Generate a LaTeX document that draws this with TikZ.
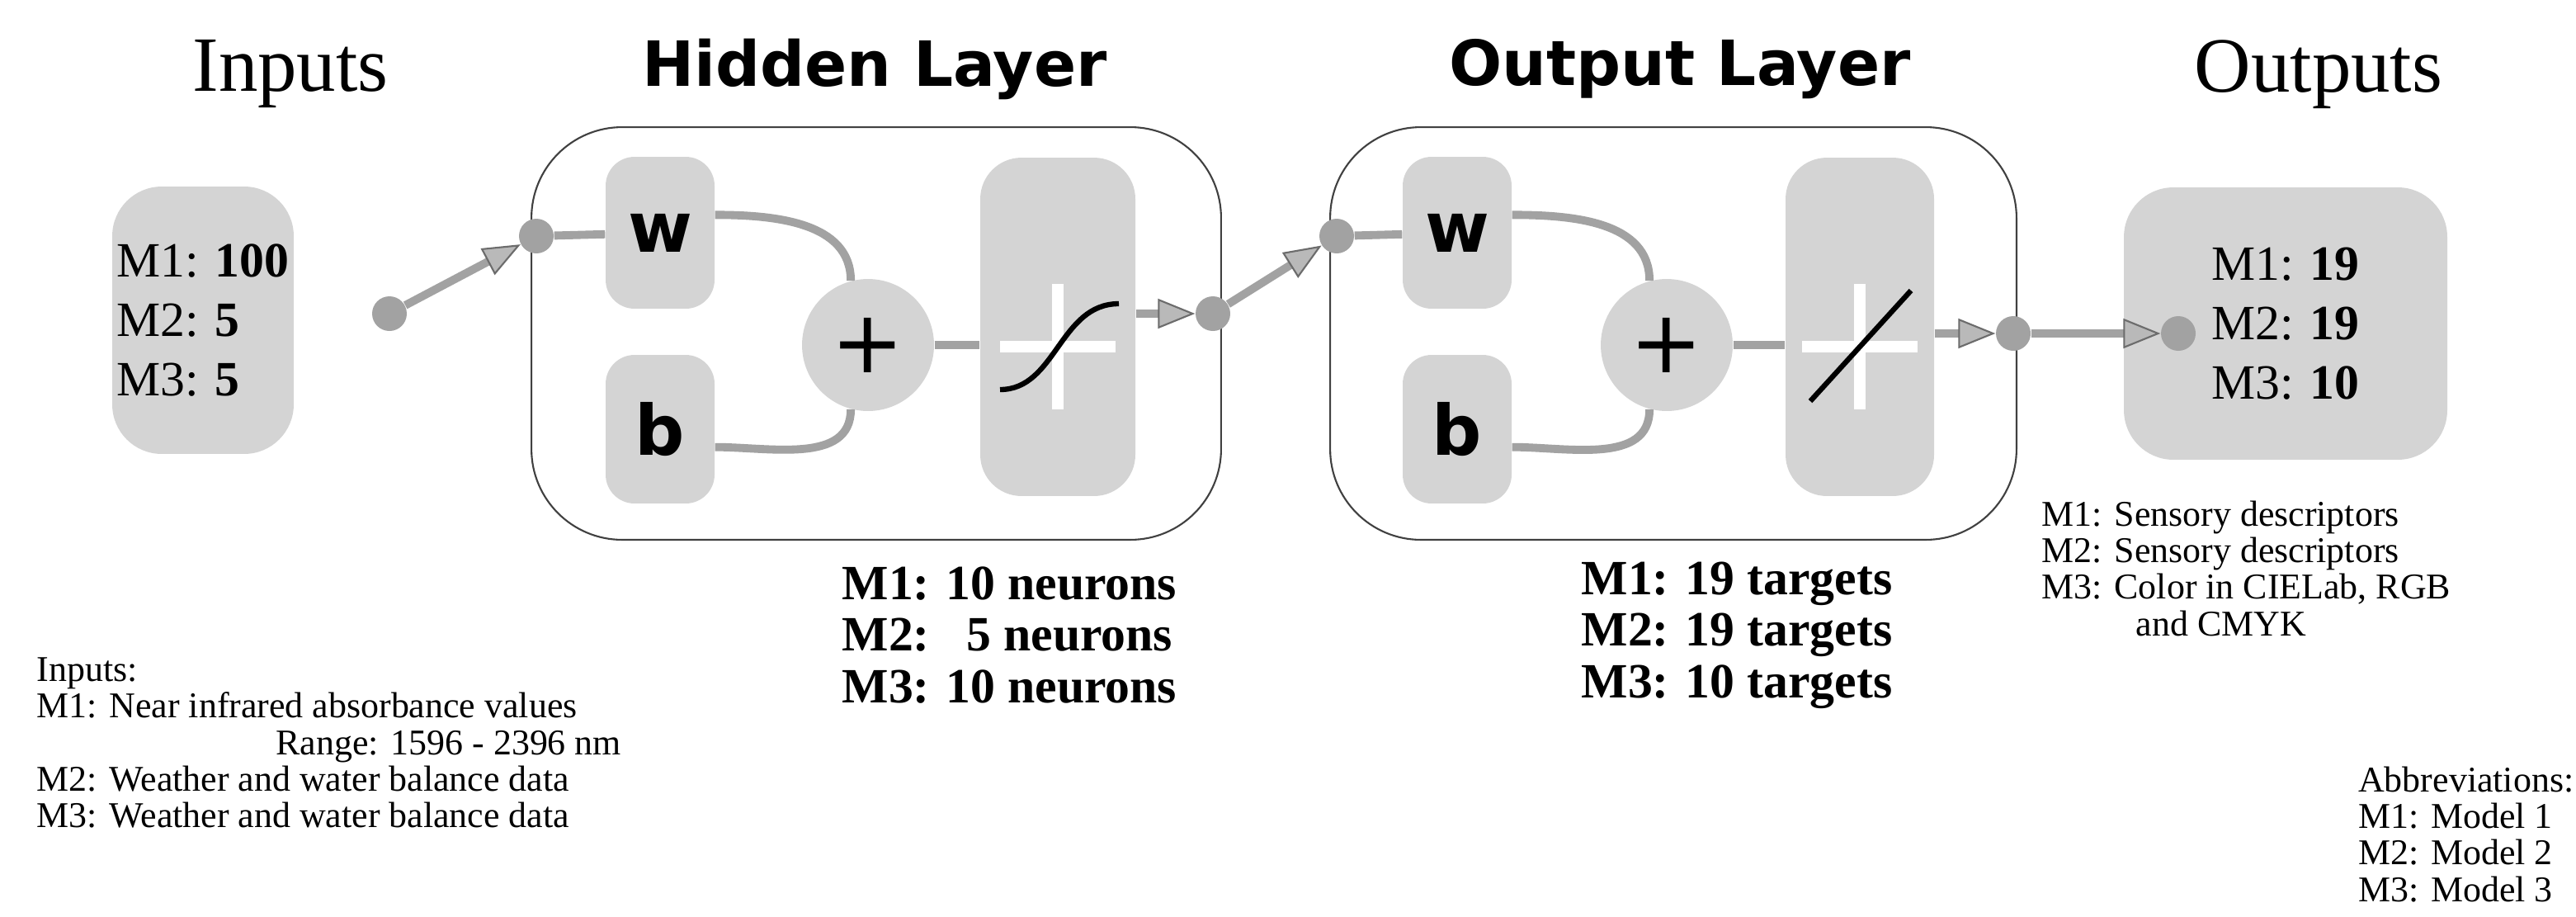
\documentclass[tikz,border=0pt]{standalone}
\usepackage{fontspec}
\setmainfont{Liberation Serif}
\setsansfont{DejaVu Sans}
\usepackage{xcolor}
\usetikzlibrary{arrows.meta, positioning, calc}

\definecolor{boxgray}{HTML}{D4D4D4}
\definecolor{linegray}{HTML}{A2A2A2}

\begin{document}
\begin{tikzpicture}[x=0.02cm, y=-0.02cm,
    blk/.style={fill=boxgray, rounded corners=0.35cm, inner sep=0pt},
    frame/.style={draw=black!75, line width=0.6pt, rounded corners=1.1cm},
    dot/.style={circle, fill=linegray, minimum size=0.42cm, inner sep=0pt},
    conn/.style={draw=linegray, line width=2.8pt},
    tip/.style={-{Triangle[length=0.45cm, width=0.36cm, fill=gray!55, color=gray!85!black, line width=0.6pt]}},
    ttl/.style={font=\fontsize{27}{30}\selectfont},
    ttlsans/.style={font=\sffamily\bfseries\fontsize{21.5}{24}\selectfont},
    note/.style={align=left, font=\fontsize{12.5}{12.6}\selectfont, inner sep=0pt},
    count/.style={align=left, font=\bfseries\fontsize{17}{17.8}\selectfont, inner sep=0pt}]
    \useasboundingbox (0,0) rectangle (1561,555);

    % Titles
    \node (tin) [ttl] at (176,45) {Inputs};
    \node (thid) [ttlsans] at (530,42) {Hidden Layer};
    \node (tout) [ttlsans] at (1018,42) {Output Layer};
    \node (tres) [ttl] at (1405,45) {Outputs};

    % Layer frames
    \node (hid) [frame, minimum width=8.36cm, minimum height=5cm] at (531,202) {};
    \node (outl) [frame, minimum width=8.32cm, minimum height=5cm] at (1014,202) {};

    % Input and output blocks
    \node (in) [blk, rounded corners=0.6cm, minimum width=2.2cm, minimum height=3.24cm, align=left,
        font=\fontsize{17}{20.5}\selectfont] at (123,194) {M1: \textbf{100}\\M2: \textbf{5}\\M3: \textbf{5}};
    \node (res) [blk, rounded corners=0.6cm, minimum width=3.92cm, minimum height=3.3cm, align=left,
        font=\fontsize{17}{20.5}\selectfont] at (1385,196) {M1: \textbf{19}\\M2: \textbf{19}\\M3: \textbf{10}};

    % Hidden layer parts
    \node (hw) [blk, minimum width=1.32cm, minimum height=1.84cm, font=\sffamily\bfseries\fontsize{24}{26}\selectfont] at (400,141) {w};
    \node (hb) [blk, minimum width=1.32cm, minimum height=1.8cm, font=\sffamily\bfseries\fontsize{24}{26}\selectfont] at (400,260) {b};
    \node (hplus) [circle, fill=boxgray, minimum size=1.6cm, inner sep=0pt, font=\sffamily\fontsize{30}{30}\selectfont] at (526,209) {+};
    \node (hact) [blk, rounded corners=0.5cm, minimum width=1.88cm, minimum height=4.1cm] at (641,198) {};

    % Output layer parts
    \node (ow) [blk, minimum width=1.32cm, minimum height=1.84cm, font=\sffamily\bfseries\fontsize{24}{26}\selectfont] at (883,141) {w};
    \node (ob) [blk, minimum width=1.32cm, minimum height=1.8cm, font=\sffamily\bfseries\fontsize{24}{26}\selectfont] at (883,260) {b};
    \node (oplus) [circle, fill=boxgray, minimum size=1.6cm, inner sep=0pt, font=\sffamily\fontsize{30}{30}\selectfont] at (1010,209) {+};
    \node (oact) [blk, rounded corners=0.5cm, minimum width=1.8cm, minimum height=4.1cm] at (1127,198) {};

    % Transfer function glyphs
    \draw[white, line width=4pt] (606,210) -- (676,210) (641,172) -- (641,248);
    \draw[black, line width=1.8pt] (606,236) .. controls (640,236) and (642,184) .. (678,184);
    \draw[white, line width=4pt] (1092,210) -- (1162,210) (1127,172) -- (1127,248);
    \draw[black, line width=1.8pt] (1097,243) -- (1158,176);

    % Junction dots
    \node (ind) [dot] at (236,190) {};
    \node (hin) [dot] at (325,143) {};
    \node (hsum) [dot] at (735,190) {};
    \node (oin) [dot] at (810,143) {};
    \node (osum) [dot] at (1220,202) {};
    \node (resd) [dot] at (1320,202) {};

    % Connectors
    \draw[conn, tip] (ind) -- (hin);
    \draw[conn] (hin) -- (hw);
    \draw[conn] (hw.18) to[out=0, in=90] (hplus.105);
    \draw[conn] (hb.-18) to[out=0, in=-90] (hplus.-105);
    \draw[conn] (hplus.east) -- (hplus.east -| hact.west);
    \draw[conn, tip] (hact.east |- hsum) -- (hsum);
    \draw[conn, tip] (hsum) -- (oin);
    \draw[conn] (oin) -- (ow);
    \draw[conn] (ow.18) to[out=0, in=90] (oplus.105);
    \draw[conn] (ob.-18) to[out=0, in=-90] (oplus.-105);
    \draw[conn] (oplus.east) -- (oplus.east -| oact.west);
    \draw[conn, tip] (oact.east |- osum) -- (osum);
    \draw[conn, tip] (osum) -- (resd);

    % Notes
    \node (innote) [note, anchor=north west] at (22,398) {Inputs:\\M1: Near infrared absorbance values\\\hspace{6.6em}Range: 1596 - 2396 nm\\M2: Weather and water balance data\\M3: Weather and water balance data};
    \node (hcount) [count, anchor=north west] at (510,343) {M1: 10 neurons\\M2:\ \ \ 5 neurons\\M3: 10 neurons};
    \node (ocount) [count, anchor=north west] at (958,340) {M1: 19 targets\\M2: 19 targets\\M3: 10 targets};
    \node (resnote) [note, anchor=north west] at (1237,303) {M1: Sensory descriptors\\M2: Sensory descriptors\\M3: Color in CIELab, RGB\\\hspace{2.6em}and CMYK};
    \node (abbr) [note, anchor=north east] at (1560,464) {Abbreviations:\\M1: Model 1\\M2: Model 2\\M3: Model 3};
\end{tikzpicture}
\end{document}
